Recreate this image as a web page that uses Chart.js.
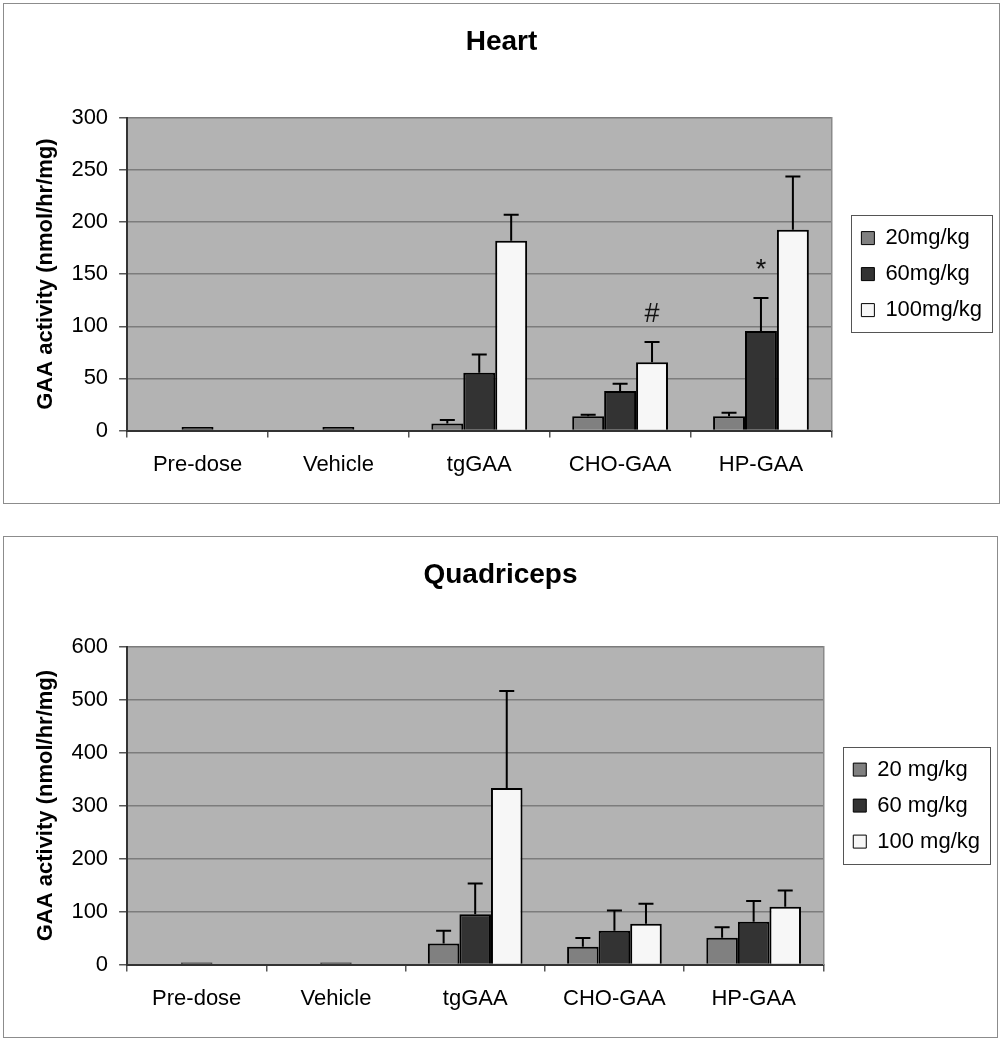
<!DOCTYPE html>
<html>
<head>
<meta charset="UTF-8">
<title>GAA activity - Heart / Quadriceps</title>
<script src="https://cdn.jsdelivr.net/npm/chart.js"></script>
<style>
  body { margin: 0; background: #fff; }
  .panel { position: absolute; left: 3px; width: 995px; border: 1.5px solid #8c8c8c; background: #fff; }
  #heartBox { top: 3px; height: 499px; }
  #quadBox { top: 536px; height: 500px; width: 993px; }
</style>
</head>
<body>
<div class="panel" id="heartBox"><canvas id="heartChart"></canvas></div>
<div class="panel" id="quadBox"><canvas id="quadChart"></canvas></div>

<script>
// groups on the x axis
const categories = ["Pre-dose", "Vehicle", "tgGAA", "CHO-GAA", "HP-GAA"];

// Heart, nmol/hr/mg (mean and upper error)
const heartDoses = ["20mg/kg", "60mg/kg", "100mg/kg"];
const heart20 = [0, 0, 6.7, 13.7, 13.7];
const heart20Err = [0, 0, 3.5, 1.5, 3.5];
const heart60 = [3.5, 3.5, 55.5, 38, 95.5];
const heart60Err = [0, 0, 17.5, 7, 31.5];
const heart100 = [0, 0, 182, 65.5, 192.5];
const heart100Err = [0, 0, 25, 19.5, 51];
const heartTicks = [0, 50, 100, 150, 200, 250, 300];
const heartMarks = [
  { cat: "CHO-GAA", dose: 2, text: "#" },
  { cat: "HP-GAA", dose: 1, text: "*" }
];

// Quadriceps, nmol/hr/mg
const quadDoses = ["20 mg/kg", "60 mg/kg", "100 mg/kg"];
const quad20 = [0, 0, 40, 33.5, 50.5];
const quad20Err = [0, 0, 24, 16.5, 20];
const quad60 = [4, 4, 95, 64, 81];
const quad60Err = [0, 0, 58, 38, 39];
const quad100 = [0, 0, 333, 77, 109];
const quad100Err = [0, 0, 183, 38, 31];
const quadTicks = [0, 100, 200, 300, 400, 500, 600];

const FONT = "'Liberation Sans', Arial, sans-serif";
const barColors = ["#808080", "#333333", "#f7f7f7"];

const plotBg = {
  id: "plotBg",
  beforeDraw(chart) {
    const a = chart.chartArea, ctx = chart.ctx;
    ctx.save();
    ctx.fillStyle = "#b3b3b3";
    ctx.fillRect(a.left, a.top, a.right - a.left, a.bottom - a.top);
    ctx.restore();
  }
};

// keep the legend centred on the plot area, not on the whole canvas
const legendCenter = {
  id: "legendCenter",
  afterLayout(chart) {
    const lg = chart.legend, a = chart.chartArea;
    lg.top = a.top;
    lg.bottom = a.bottom;
    lg.height = a.bottom - a.top;
  }
};

const errorBars = {
  id: "errorBars",
  afterDatasetsDraw(chart) {
    const ctx = chart.ctx, y = chart.scales.y;
    ctx.save();
    ctx.strokeStyle = "#000";
    ctx.lineWidth = 2;
    chart.data.datasets.forEach((ds, i) => {
      chart.getDatasetMeta(i).data.forEach((bar, j) => {
        const e = ds.errors[j];
        if (!e) return;
        const top = y.getPixelForValue(ds.data[j] + e);
        ctx.beginPath();
        ctx.moveTo(bar.x, bar.y);
        ctx.lineTo(bar.x, top);
        ctx.moveTo(bar.x - 7.5, top);
        ctx.lineTo(bar.x + 7.5, top);
        ctx.stroke();
      });
    });
    ctx.restore();
  }
};

const sigMarks = {
  id: "sigMarks",
  afterDatasetsDraw(chart, args, opts) {
    const marks = opts.marks || [];
    const ctx = chart.ctx, y = chart.scales.y;
    ctx.save();
    ctx.fillStyle = "#111";
    ctx.font = "27px " + FONT;
    ctx.textAlign = "center";
    ctx.textBaseline = "alphabetic";
    marks.forEach(m => {
      const j = categories.indexOf(m.cat);
      const ds = chart.data.datasets[m.dose];
      const bar = chart.getDatasetMeta(m.dose).data[j];
      const top = y.getPixelForValue(ds.data[j] + ds.errors[j]);
      ctx.fillText(m.text, bar.x, top - 20);
    });
    ctx.restore();
  }
};

const legendFrame = {
  id: "legendFrame",
  afterDraw(chart) {
    const hb = chart.legend.legendHitBoxes;
    if (!hb || !hb.length) return;
    const l = Math.min(...hb.map(h => h.left)) - 10;
    const t = Math.min(...hb.map(h => h.top)) - 12;
    const r = Math.max(...hb.map(h => h.left + h.width)) + 10;
    const b = Math.max(...hb.map(h => h.top + h.height)) + 11;
    const ctx = chart.ctx;
    ctx.save();
    ctx.strokeStyle = "#555";
    ctx.lineWidth = 1;
    ctx.strokeRect(Math.round(l) + 0.5, Math.round(t) + 0.5, Math.round(r - l), Math.round(b - t));
    ctx.restore();
  }
};

function makeChart(id, title, doses, series, errors, ticks, marks, titleGap) {
  const step = ticks[1] - ticks[0];
  return new Chart(document.getElementById(id), {
    type: "bar",
    data: {
      labels: categories,
      datasets: doses.map((d, i) => ({
        label: d,
        data: series[i],
        errors: errors[i],
        backgroundColor: barColors[i],
        borderColor: "#000",
        borderWidth: 2,
        categoryPercentage: 0.68,
        barPercentage: 1.0
      }))
    },
    options: {
      animation: false,
      responsive: true,
      maintainAspectRatio: false,
      layout: { padding: { left: 7, right: 7, top: 0, bottom: 11 } },
      scales: {
        x: {
          grid: { display: true, offset: true, drawOnChartArea: false, tickLength: 7, tickColor: "#555", lineWidth: 1.5 },
          border: { display: true, color: "#333", width: 2 },
          ticks: { color: "#000", font: { family: FONT, size: 22 }, padding: 14, maxRotation: 0 }
        },
        y: {
          min: ticks[0],
          max: ticks[ticks.length - 1],
          afterBuildTicks: s => { s.ticks = ticks.map(v => ({ value: v })); },
          grid: { color: "#7c7c7c", lineWidth: 1.5, tickLength: 8, tickColor: "#555" },
          border: { display: true, color: "#333", width: 2 },
          ticks: { color: "#000", font: { family: FONT, size: 22 }, padding: 11, stepSize: step },
          title: {
            display: true,
            text: "GAA activity (nmol/hr/mg)",
            color: "#000",
            font: { family: FONT, size: 22, weight: "bold" },
            padding: { top: 22, bottom: 1 }
          }
        },
        yEdge: {
          position: "right",
          display: true,
          grid: { display: false },
          ticks: { display: false },
          border: { display: true, color: "#8a8a8a", width: 1.5 },
          afterFit: s => { s.width = 16; }
        }
      },
      plugins: {
        title: {
          display: true,
          text: title,
          color: "#000",
          font: { family: FONT, size: 28, weight: "bold" },
          padding: { top: 21, bottom: titleGap }
        },
        legend: {
          position: "right",
          labels: {
            color: "#000",
            font: { family: FONT, size: 22 },
            boxWidth: 13,
            boxHeight: 13,
            padding: 14,
            generateLabels: c => Chart.defaults.plugins.legend.labels.generateLabels(c).map(it => Object.assign(it, { lineWidth: 1 }))
          }
        },
        tooltip: { enabled: false },
        sigMarks: { marks: marks }
      }
    },
    plugins: [plotBg, legendCenter, errorBars, sigMarks, legendFrame]
  });
}

makeChart("heartChart", "Heart", heartDoses,
  [heart20, heart60, heart100], [heart20Err, heart60Err, heart100Err], heartTicks, heartMarks, 59);
makeChart("quadChart", "Quadriceps", quadDoses,
  [quad20, quad60, quad100], [quad20Err, quad60Err, quad100Err], quadTicks, [], 55);
</script>
</body>
</html>
